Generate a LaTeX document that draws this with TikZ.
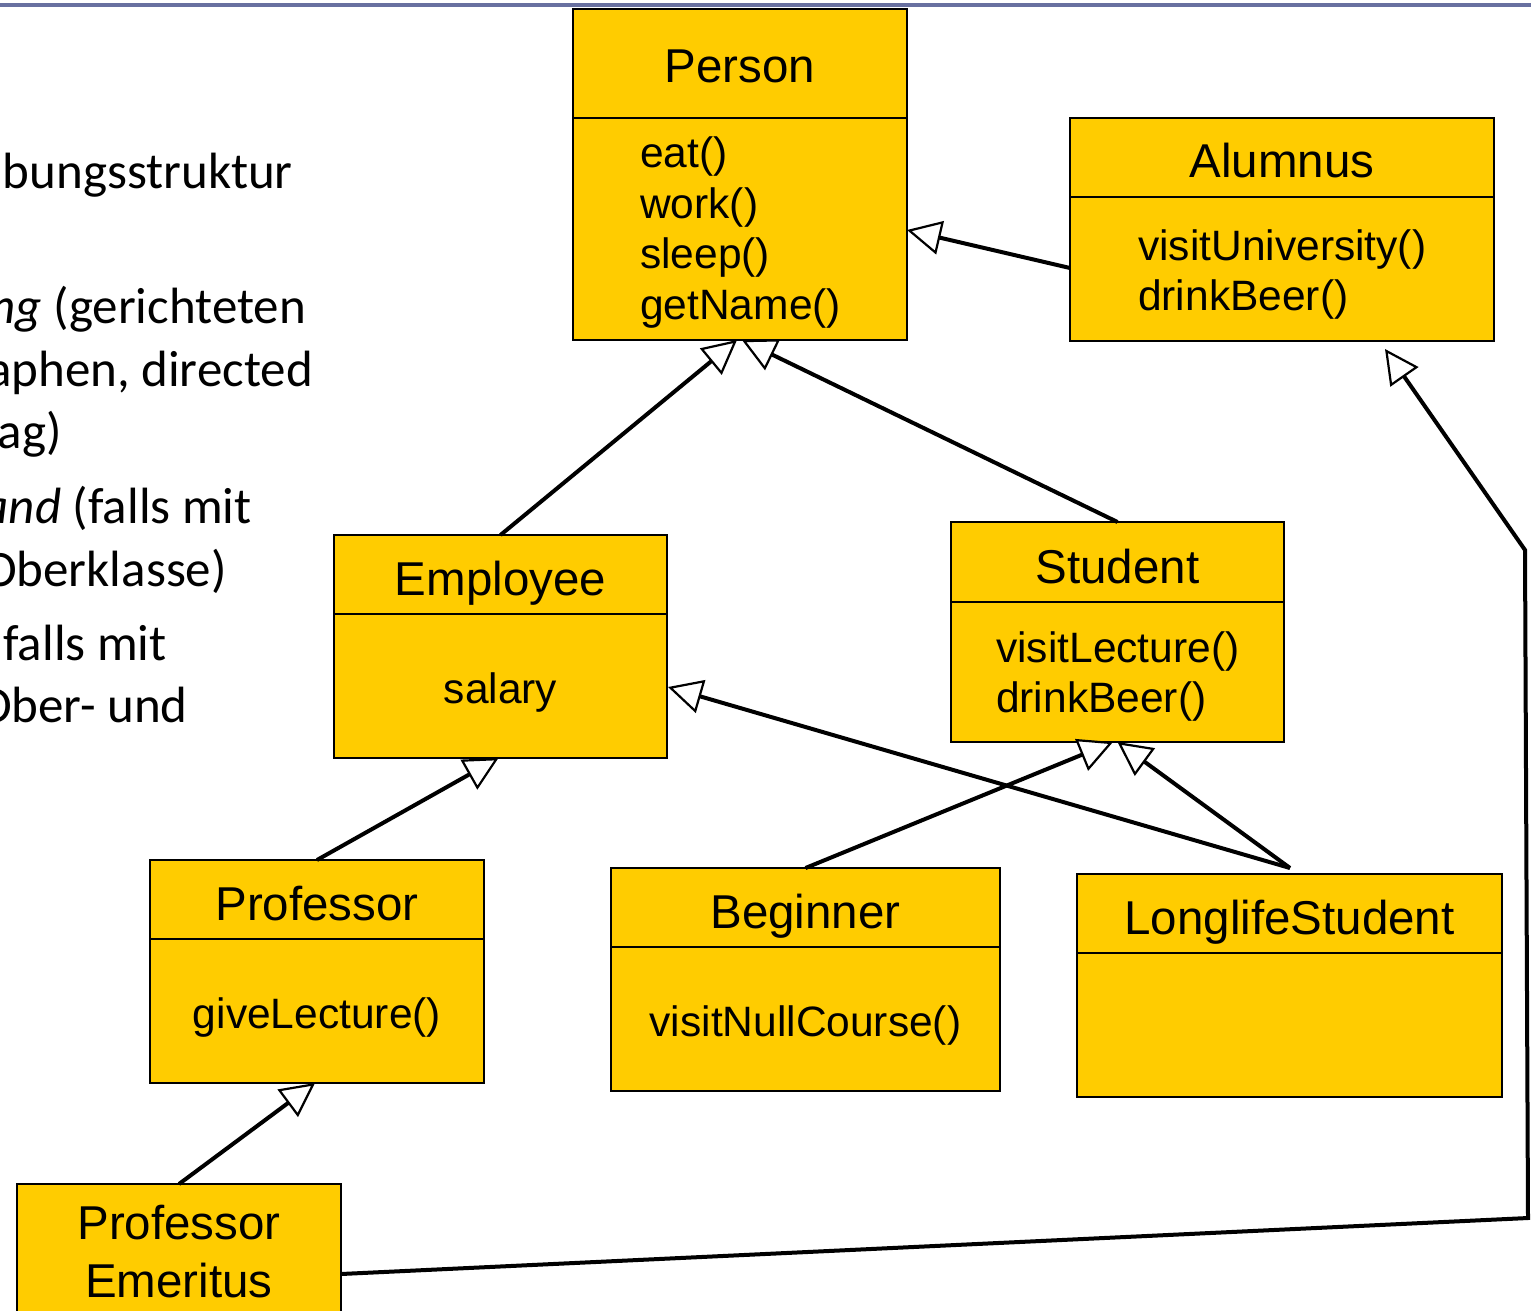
\documentclass[tikz,border=0pt]{standalone}
\usepackage{fontspec}
\setmainfont{Liberation Sans}
\newfontfamily\slidefont{Carlito}
\usetikzlibrary{arrows.meta}
\definecolor{umlyellow}{RGB}{255,204,0}
\definecolor{rulecolor}{RGB}{104,112,160}
\begin{document}
\begin{tikzpicture}[x=1pt,y=1pt,
  cls/.style={draw=black, fill=umlyellow, line width=2.8pt, inner sep=0pt, outer sep=0pt},
  sepline/.style={line width=2.8pt},
  title/.style={font=\fontsize{47.5}{56}\selectfont, anchor=base, inner sep=0pt},
  meth/.style={font=\fontsize{42.5}{50}\selectfont, anchor=base west, inner sep=0pt},
  methc/.style={font=\fontsize{42.5}{50}\selectfont, anchor=base, inner sep=0pt},
  slide/.style={font=\slidefont\fontsize{51}{62}\selectfont, anchor=base east, inner sep=0pt},
  inherit/.style={line width=4pt, -{Triangle[length=34pt, width=34pt, fill=white, line width=2.2pt]}},
]
\useasboundingbox (0,0) rectangle (1531,-1310);
\clip (0,0) rectangle (1531,-1310);

% top rule
\draw[rulecolor, line width=4pt] (0,-5) -- (1531,-5);

% left slide text (cropped at the left edge as in the reference)
\node[slide] (t1) at (293,-188) {bungsstruktur};
\node[slide] (t2) at (306,-323) {\textit{ng} (gerichteten};
\node[slide] (t3) at (313,-386) {aphen, directed};
\node[slide] (t4) at (62,-448) {ag)};
\node[slide] (t5) at (252,-523) {\textit{and} (falls mit};
\node[slide] (t6) at (227,-586) {Oberklasse)};
\node[slide] (t7) at (167,-660) {(falls mit};
\node[slide] (t8) at (188,-722) {Ober- und};

% class boxes
\node[cls, minimum width=334pt, minimum height=331pt] (person) at (740,-174.5) {};
\node[cls, minimum width=424pt, minimum height=223pt] (alumnus) at (1282,-229.5) {};
\node[cls, minimum width=333pt, minimum height=223pt] (employee) at (500.5,-646.5) {};
\node[cls, minimum width=333pt, minimum height=220pt] (student) at (1117.5,-632) {};
\node[cls, minimum width=334pt, minimum height=223pt] (professor) at (317,-971.5) {};
\node[cls, minimum width=389pt, minimum height=223pt] (beginner) at (805.5,-979.5) {};
\node[cls, minimum width=425pt, minimum height=223pt] (longlife) at (1289.5,-985.5) {};
\node[cls, minimum width=324pt, minimum height=156pt] (emeritus) at (179,-1262) {};

% separators
\draw[sepline] ([yshift=-109pt]person.north west) -- ([yshift=-109pt]person.north east);
\draw[sepline] ([yshift=-79pt]alumnus.north west) -- ([yshift=-79pt]alumnus.north east);
\draw[sepline] ([yshift=-79pt]employee.north west) -- ([yshift=-79pt]employee.north east);
\draw[sepline] ([yshift=-80pt]student.north west) -- ([yshift=-80pt]student.north east);
\draw[sepline] ([yshift=-79pt]professor.north west) -- ([yshift=-79pt]professor.north east);
\draw[sepline] ([yshift=-79pt]beginner.north west) -- ([yshift=-79pt]beginner.north east);
\draw[sepline] ([yshift=-79pt]longlife.north west) -- ([yshift=-79pt]longlife.north east);

% titles
\node[title] (person-t) at (740,-82) {Person};
\node[title] (alumnus-t) at (1282,-177) {Alumnus};
\node[title] (employee-t) at (500.5,-595) {Employee};
\node[title] (student-t) at (1117.5,-583) {Student};
\node[title] (professor-t) at (317,-920) {Professor};
\node[title] (beginner-t) at (805.5,-928) {Beginner};
\node[title] (longlife-t) at (1289.5,-934) {LonglifeStudent};
\node[title] (emeritus-t1) at (179,-1239) {Professor};
\node[title] (emeritus-t2) at (179,-1297) {Emeritus};

% members
\node[meth] (person-m1) at (640,-167) {eat()};
\node[meth] (person-m2) at (640,-218) {work()};
\node[meth] (person-m3) at (640,-268) {sleep()};
\node[meth] (person-m4) at (640,-319) {getName()};
\node[meth] (alumnus-m1) at (1138,-260) {visitUniversity()};
\node[meth] (alumnus-m2) at (1138,-310) {drinkBeer()};
\node[meth] (student-m1) at (996,-662) {visitLecture()};
\node[meth] (student-m2) at (996,-712) {drinkBeer()};
\node[methc] (employee-m1) at (500.5,-703) {salary};
\node[methc] (professor-m1) at (317,-1028) {giveLecture()};
\node[methc] (beginner-m1) at (805.5,-1036) {visitNullCourse()};

% connectors
\coordinate (bendA) at (1528,-1218);
\coordinate (bendB) at (1525,-550);
\draw[inherit] ([yshift=-38.5pt]alumnus.west) -- ([yshift=-55.5pt]person.east);
\draw[inherit] (employee.north) -- ([xshift=-3pt]person.south);
\draw[inherit] (student.north) -- ([xshift=2pt]person.south);
\draw[inherit] (professor.north) -- ([xshift=-2pt]employee.south);
\draw[inherit] ([xshift=0.5pt,yshift=6pt]longlife.north) -- ([xshift=1pt,yshift=-40.5pt]employee.east);
\draw[inherit] (beginner.north) -- ([xshift=-4.5pt]student.south);
\draw[inherit] ([xshift=0.5pt,yshift=6pt]longlife.north) -- (student.south);
\draw[inherit] (emeritus.north) -- ([xshift=-2pt]professor.south);
\draw[inherit, line join=miter] ([yshift=-12pt]emeritus.east) -- (bendA) -- (bendB) -- ([xshift=103pt,yshift=-8pt]alumnus.south);
\end{tikzpicture}
\end{document}
